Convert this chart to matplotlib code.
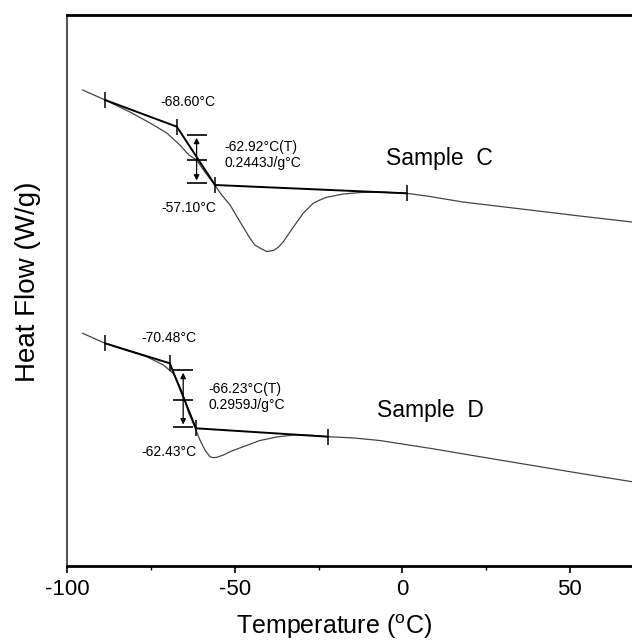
import matplotlib
matplotlib.use("Agg")
import matplotlib.pyplot as plt
from matplotlib.ticker import MultipleLocator

plt.rcParams['font.family'] = ['Liberation Sans', 'DejaVu Sans']
plt.rcParams['mathtext.default'] = 'regular'
plt.rcParams['axes.unicode_minus'] = False

# DSC curves (temperature in degC, heat flow in arbitrary W/g offset units)
temp_c = [-95.4, -88.7, -81.3, -75.3, -70.3, -66.4, -63.7, -61.4, -58.9, -56.4,
          -53.9, -51.4, -48.4, -45.5, -44.0, -42.5, -40.5, -38.5, -37.0, -35.5,
          -34.0, -32.5, -31.0, -29.6, -26.6, -24.6, -22.6, -17.6, -12.6, -6.7,
          1.3, 8.3, 18.1, 38.1, 53.0, 68.6]
flow_c = [4.76, 4.66, 4.54, 4.43, 4.33, 4.21, 4.11, 4.06, 3.94, 3.83,
          3.71, 3.61, 3.44, 3.28, 3.21, 3.18, 3.145, 3.155, 3.187, 3.243,
          3.317, 3.39, 3.46, 3.527, 3.627, 3.66, 3.687, 3.72, 3.735, 3.74,
          3.727, 3.695, 3.64, 3.56, 3.50, 3.44]

temp_d = [-95.4, -88.7, -84.3, -76.3, -71.3, -68.4, -66.4, -64.9, -63.9, -62.4,
          -61.4, -60.4, -58.9, -57.4, -56.4, -55.4, -53.4, -51.4, -47.5, -42.5,
          -37.5, -32.5, -27.6, -22.1, -14.4, -6.7, 8.3, 23.2, 38.1, 53.0, 68.6]
flow_d = [2.327, 2.227, 2.177, 2.093, 2.01, 1.927, 1.793, 1.66, 1.543, 1.427,
          1.343, 1.26, 1.16, 1.093, 1.083, 1.087, 1.11, 1.143, 1.193, 1.255,
          1.29, 1.31, 1.307, 1.293, 1.28, 1.255, 1.177, 1.093, 1.01, 0.927, 0.843]

# tangent construction points: start of baseline, onset, end, end of baseline
tan_temp_c = [-88.7, -67.3, -55.9, 1.3]
tan_flow_c = [4.66, 4.393, 3.81, 3.727]
tan_temp_d = [-88.7, -69.4, -61.6, -22.1]
tan_flow_d = [2.227, 2.027, 1.377, 1.293]

# glass transition step marker: temperature, top, middle, bottom
step_c = [-61.4, 4.31, 4.06, 3.827]
step_d = [-65.4, 1.96, 1.66, 1.387]

labels_c = ['-68.60°C', '-62.92°C(T)', '0.2443J/g°C', '-57.10°C']
labels_d = ['-70.48°C', '-66.23°C(T)', '0.2959J/g°C', '-62.43°C']

fig = plt.figure(figsize=(6.32, 6.44), dpi=100)
ax = fig.add_axes([0.1065, 0.1211, 0.8935, 0.8556])


def draw_sample(temp, flow, tt, tf, step):
    ax.plot(temp, flow, color='#444444', lw=0.9)
    ax.plot(tt, tf, color='black', lw=1.4)
    ax.plot(tt, tf, linestyle='none', marker='|', markersize=11,
            markeredgewidth=1.1, color='black')
    x, top, mid, bot = step
    ax.plot([x, x, x], [top, mid, bot], linestyle='none', marker='_',
            markersize=15, markeredgewidth=1.2, color='black')
    ax.annotate('', xy=(x, top), xytext=(x, mid),
                arrowprops=dict(arrowstyle='-|>', color='black', lw=0.9,
                                mutation_scale=8, shrinkA=0, shrinkB=2))
    ax.annotate('', xy=(x, bot), xytext=(x, mid),
                arrowprops=dict(arrowstyle='-|>', color='black', lw=0.9,
                                mutation_scale=8, shrinkA=0, shrinkB=2))


draw_sample(temp_c, flow_c, tan_temp_c, tan_flow_c, step_c)
draw_sample(temp_d, flow_d, tan_temp_d, tan_flow_d, step_d)

fs = 10
ax.text(-72.3, 4.64, labels_c[0], fontsize=fs, va='center')
ax.text(-53.0, 4.193, labels_c[1], fontsize=fs, va='center')
ax.text(-53.0, 4.027, labels_c[2], fontsize=fs, va='center')
ax.text(-71.8, 3.58, labels_c[3], fontsize=fs, va='center')
ax.text(-4.7, 4.077, 'Sample  C', fontsize=16.5, va='center')

ax.text(-77.8, 2.277, labels_d[0], fontsize=fs, va='center')
ax.text(-57.9, 1.767, labels_d[1], fontsize=fs, va='center')
ax.text(-57.9, 1.61, labels_d[2], fontsize=fs, va='center')
ax.text(-77.8, 1.143, labels_d[3], fontsize=fs, va='center')
ax.text(-7.6, 1.56, 'Sample  D', fontsize=16.5, va='center')

ax.set_xlim(-100, 68.6)
ax.set_ylim(0, 5.51)
ax.xaxis.set_major_locator(MultipleLocator(50))
ax.xaxis.set_minor_locator(MultipleLocator(25))
ax.tick_params(axis='x', which='major', direction='out', length=5, width=1.2,
               labelsize=16, pad=4)
ax.tick_params(axis='x', which='minor', direction='out', length=3, width=1)
ax.set_yticks([])
ax.spines['right'].set_visible(False)
for s in ['top', 'bottom']:
    ax.spines[s].set_linewidth(2)
ax.spines['left'].set_linewidth(1.5)
ax.spines['left'].set_color('#555555')

ax.set_xlabel('Temperature ($^{o}$C)', fontsize=18)
ax.xaxis.set_label_coords(0.472, -0.085)
ax.set_ylabel('Heat Flow (W/g)', fontsize=20)
ax.yaxis.set_label_coords(-0.047, 0.515)

fig.savefig('out.png', dpi=100)
